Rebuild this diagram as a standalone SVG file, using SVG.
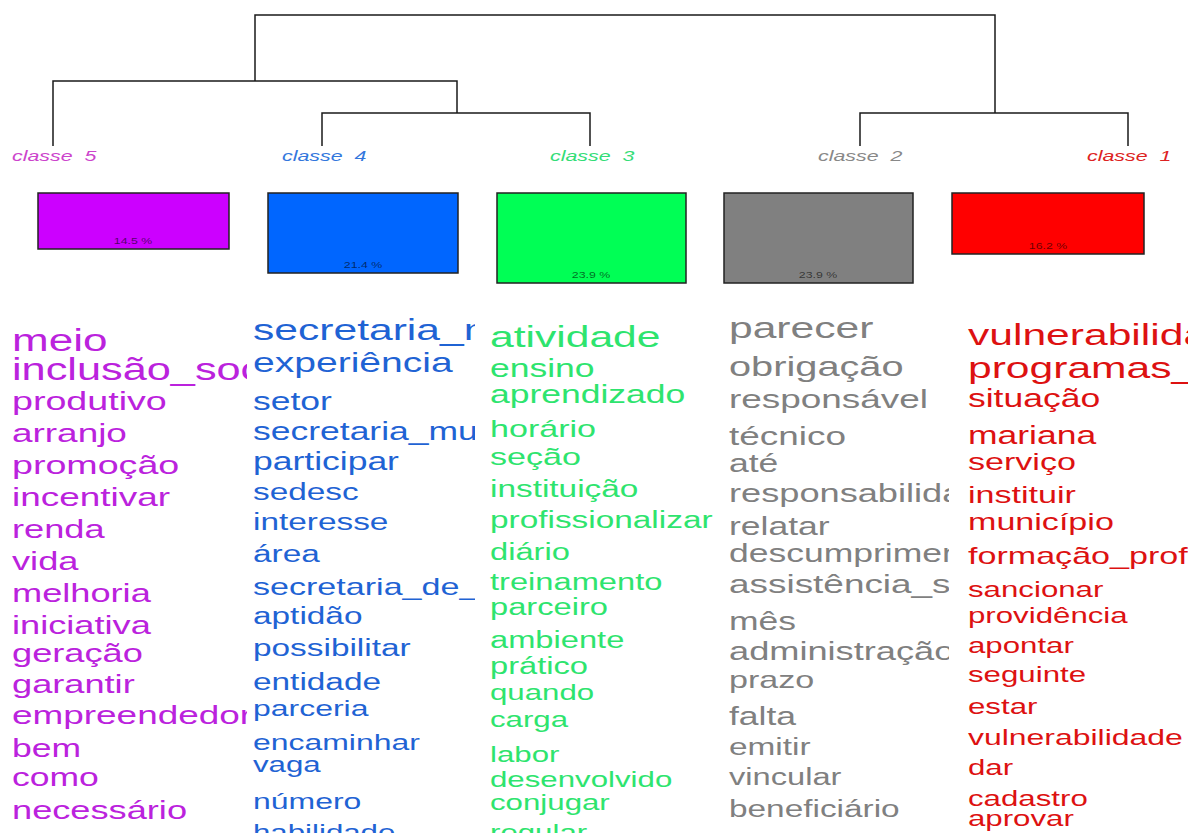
<svg xmlns="http://www.w3.org/2000/svg" width="1198" height="833" viewBox="0 0 1198 833">
<style>
.dl{fill:none;stroke:#1a1a1a;stroke-width:1.5}
.lab{font-family:"Liberation Sans",Arial,sans-serif;font-style:italic;font-size:15.5px}
.bar{stroke:#222;stroke-width:1.5}
.pct{font-family:"Liberation Sans",Arial,sans-serif;font-size:9.5px;fill:#000;fill-opacity:0.6;text-anchor:middle}
.w{font-family:"Liberation Sans",Arial,sans-serif}
.c5{fill:#bb22dd}.c4{fill:#1f63d4}.c3{fill:#2ee46e}.c2{fill:#808080}.c1{fill:#dd1111}
</style>
<defs>
<clipPath id="k5"><rect x="0" y="300" width="247" height="533"/></clipPath>
<clipPath id="k4"><rect x="250" y="300" width="225" height="533"/></clipPath>
<clipPath id="k3"><rect x="487" y="300" width="236" height="533"/></clipPath>
<clipPath id="k2"><rect x="726" y="300" width="223" height="533"/></clipPath>
<clipPath id="k1"><rect x="965" y="300" width="223" height="533"/></clipPath>
</defs>
<rect width="1198" height="833" fill="#fff"/>
<g id="connectors">
<path class="dl" d="M255,81 V15 H995 V113"/>
<path class="dl" d="M53,146 V81 H457 V113"/>
<path class="dl" d="M322,146 V113 H590 V146"/>
<path class="dl" d="M860,146 V113 H1128 V146"/>
</g>
<g id="classe5">
<text class="lab" fill="#cc44cc" transform="translate(12,161) scale(1.38,1)" xml:space="preserve">classe  5</text>
<rect class="bar" x="38" y="193" width="191" height="56" fill="#cc00ff"/>
<text class="pct" transform="translate(133,244) scale(1.3,1)">14.5 %</text>
<g clip-path="url(#k5)"><g class="w c5" transform="translate(12,0) scale(1.42,1)">
<text y="351" font-size="31">meio</text>
<text y="380" font-size="30.5">inclusão_social</text>
<text y="410" font-size="26.5">produtivo</text>
<text y="442" font-size="26">arranjo</text>
<text y="474" font-size="26.5">promoção</text>
<text y="506" font-size="26">incentivar</text>
<text y="538" font-size="25.5">renda</text>
<text y="570" font-size="25.5">vida</text>
<text y="602" font-size="25.5">melhoria</text>
<text y="634" font-size="25.5">iniciativa</text>
<text y="662" font-size="25.5">geração</text>
<text y="693" font-size="25.5">garantir</text>
<text y="724" font-size="26">empreendedorismo</text>
<text y="757" font-size="25">bem</text>
<text y="786" font-size="25">como</text>
<text y="819" font-size="25.5">necessário</text>
</g></g>
</g>
<g id="classe4">
<text class="lab" fill="#3377dd" transform="translate(282,161) scale(1.38,1)" xml:space="preserve">classe  4</text>
<rect class="bar" x="268" y="193" width="190" height="80" fill="#0066ff"/>
<text class="pct" transform="translate(363,268) scale(1.3,1)">21.4 %</text>
<g clip-path="url(#k4)"><g class="w c4" transform="translate(253,0) scale(1.42,1)">
<text y="340" font-size="30">secretaria_municipal</text>
<text y="372" font-size="27.5">experiência</text>
<text y="410" font-size="25">setor</text>
<text y="440" font-size="25">secretaria_municipal</text>
<text y="470" font-size="25">participar</text>
<text y="500" font-size="23.5">sedesc</text>
<text y="530" font-size="23.5">interesse</text>
<text y="562" font-size="23.5">área</text>
<text y="595" font-size="24">secretaria_de_</text>
<text y="624" font-size="23.5">aptidão</text>
<text y="656" font-size="23.5">possibilitar</text>
<text y="690" font-size="23.5">entidade</text>
<text y="716" font-size="22.5">parceria</text>
<text y="750" font-size="22.5">encaminhar</text>
<text y="772" font-size="22">vaga</text>
<text y="809" font-size="22.5">número</text>
<text y="840" font-size="22">habilidade</text>
</g></g>
</g>
<g id="classe3">
<text class="lab" fill="#33dd77" transform="translate(550,161) scale(1.38,1)" xml:space="preserve">classe  3</text>
<rect class="bar" x="497" y="193" width="189" height="90" fill="#00ff55"/>
<text class="pct" transform="translate(591,278) scale(1.3,1)">23.9 %</text>
<g clip-path="url(#k3)"><g class="w c3" transform="translate(490,0) scale(1.42,1)">
<text y="347" font-size="30">atividade</text>
<text y="377" font-size="25">ensino</text>
<text y="403" font-size="25">aprendizado</text>
<text y="437" font-size="24">horário</text>
<text y="465" font-size="24">seção</text>
<text y="497" font-size="23.5">instituição</text>
<text y="528" font-size="23.5">profissionalizar</text>
<text y="560" font-size="23">diário</text>
<text y="590" font-size="23">treinamento</text>
<text y="615" font-size="23">parceiro</text>
<text y="648" font-size="23">ambiente</text>
<text y="674" font-size="23">prático</text>
<text y="700" font-size="22">quando</text>
<text y="727" font-size="22">carga</text>
<text y="762" font-size="22">labor</text>
<text y="787" font-size="22">desenvolvido</text>
<text y="810" font-size="22">conjugar</text>
<text y="840" font-size="22">regular</text>
</g></g>
</g>
<g id="classe2">
<text class="lab" fill="#888888" transform="translate(818,161) scale(1.38,1)" xml:space="preserve">classe  2</text>
<rect class="bar" x="724" y="193" width="189" height="90" fill="#808080"/>
<text class="pct" transform="translate(818,278) scale(1.3,1)">23.9 %</text>
<g clip-path="url(#k2)"><g class="w c2" transform="translate(729,0) scale(1.42,1)">
<text y="338" font-size="30">parecer</text>
<text y="376" font-size="28">obrigação</text>
<text y="408" font-size="26">responsável</text>
<text y="445" font-size="26">técnico</text>
<text y="472" font-size="25">até</text>
<text y="502" font-size="25.5">responsabilidade</text>
<text y="535" font-size="25">relatar</text>
<text y="562" font-size="25">descumprimento</text>
<text y="593" font-size="26">assistência_social</text>
<text y="630" font-size="25">mês</text>
<text y="660" font-size="25.5">administração</text>
<text y="688" font-size="24">prazo</text>
<text y="725" font-size="25">falta</text>
<text y="755" font-size="23.5">emitir</text>
<text y="785" font-size="23">vincular</text>
<text y="817" font-size="23.5">beneficiário</text>
</g></g>
</g>
<g id="classe1">
<text class="lab" fill="#dd2222" transform="translate(1087,161) scale(1.38,1)" xml:space="preserve">classe  1</text>
<rect class="bar" x="952" y="193" width="192" height="61" fill="#ff0000"/>
<text class="pct" transform="translate(1048,249) scale(1.3,1)">16.2 %</text>
<g clip-path="url(#k1)"><g class="w c1" transform="translate(968,0) scale(1.42,1)">
<text y="345" font-size="30">vulnerabilidade</text>
<text y="378" font-size="30">programas_</text>
<text y="407" font-size="25">situação</text>
<text y="444" font-size="25">mariana</text>
<text y="470" font-size="24">serviço</text>
<text y="503" font-size="24">instituir</text>
<text y="530" font-size="24">município</text>
<text y="564" font-size="24">formação_profissional</text>
<text y="597" font-size="22">sancionar</text>
<text y="623" font-size="22">providência</text>
<text y="653" font-size="22">apontar</text>
<text y="682" font-size="22">seguinte</text>
<text y="714" font-size="22">estar</text>
<text y="745" font-size="22.5">vulnerabilidade</text>
<text y="775" font-size="22">dar</text>
<text y="806" font-size="22">cadastro</text>
<text y="826" font-size="22">aprovar</text>
</g></g>
</g>
</svg>
